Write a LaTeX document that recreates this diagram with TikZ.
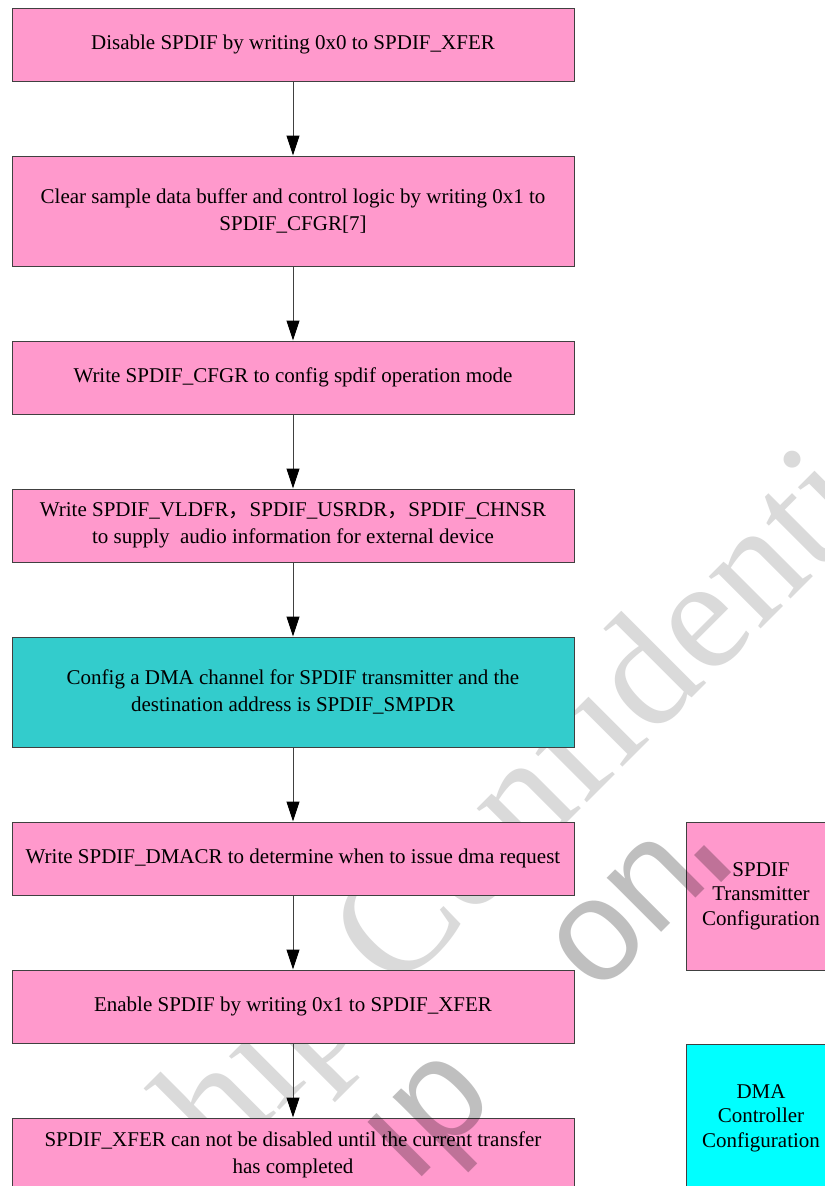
\documentclass[tikz,border=0pt]{standalone}
\usepackage{fontspec}
\setmainfont{Liberation Serif}
\newfontfamily\wmsans{Liberation Sans}
\newfontfamily\cjkfont{Noto Sans CJK SC}
\usetikzlibrary{arrows.meta}
\definecolor{stepPink}{HTML}{FF99CC}
\definecolor{dmaTeal}{HTML}{33CCCC}
\definecolor{dmaCyan}{HTML}{00FFFF}
\definecolor{edgeGray}{HTML}{404040}
\definecolor{markGray}{HTML}{DADADA}
% full-width comma used between register names
\newcommand{\fwc}{{\cjkfont ，}}

\begin{document}
\begin{tikzpicture}[x=0.75pt,y=-0.75pt,
  stepbox/.style={draw=edgeGray, line width=0.75pt, fill=stepPink,
    minimum width=421.5pt, inner sep=0pt, align=center,
    font=\fontsize{15.75}{20.5}\selectfont},
  oneline/.style={minimum height=54.75pt},
  twoline/.style={minimum height=82.5pt},
  sidebox/.style={draw=edgeGray, line width=0.75pt,
    minimum width=112.5pt, minimum height=111pt, inner sep=0pt, align=center,
    font=\fontsize{15.75}{18.5}\selectfont},
  flow/.style={draw=edgeGray, line width=0.75pt,
    -{Triangle[length=15pt,width=9.75pt,color=black]}},
  markback/.style={text=markGray, inner sep=0pt, rotate=45,
    font=\fontsize{120}{120}\selectfont},
  markfront/.style={text=black, text opacity=0.25, inner sep=0pt, rotate=45,
    font=\wmsans\fontsize{109}{109}\selectfont}
]
\useasboundingbox (0,0) rectangle (825,1186);
\clip (0,0) rectangle (825,1186);
\fill[white] (0,0) rectangle (825,1186);

% background watermark
\node[markback, anchor=base west] (wmA) at (-68,1458) {Rockchip Confidential};

% main flow
\node[stepbox,oneline] (s1) at (293,44.5) {Disable SPDIF by writing 0x0 to SPDIF\_XFER};
\node[stepbox,twoline] (s2) at (293,211) {Clear sample data buffer and control logic by writing 0x1 to\\SPDIF\_CFGR[7]};
\node[stepbox,oneline] (s3) at (293,377.5) {Write SPDIF\_CFGR to config spdif operation mode};
\node[stepbox,oneline] (s4) at (293,525.5) {Write SPDIF\_VLDFR\fwc SPDIF\_USRDR\fwc SPDIF\_CHNSR\\to supply\ \ audio information for external device};
\node[stepbox,twoline,fill=dmaTeal] (s5) at (293,692) {Config a DMA channel for SPDIF transmitter and the\\destination address is SPDIF\_SMPDR};
\node[stepbox,oneline] (s6) at (293,858.5) {Write SPDIF\_DMACR to determine when to issue dma request};
\node[stepbox,oneline] (s7) at (293,1006.5) {Enable SPDIF by writing 0x1 to SPDIF\_XFER};
\node[stepbox,oneline] (s8) at (293,1154.5) {SPDIF\_XFER can not be disabled until the current transfer\\has completed};

% legend boxes
\node[sidebox,fill=stepPink] (k1) at (761,896) {SPDIF\\Transmitter\\Configuration};
\node[sidebox,fill=dmaCyan] (k2) at (761,1118) {DMA\\Controller\\Configuration};

\foreach \a/\b in {s1/s2,s2/s3,s3/s4,s4/s5,s5/s6,s6/s7,s7/s8}
  \draw[flow] (\a.south) -- (\b.north);

% foreground watermark fragments
\node[markfront, anchor=base west] (wmB) at (412,1187) {ıp};
\node[markfront, anchor=base west] (wmC) at (597,997) {on};
\draw[black, opacity=0.25, line width=10.5pt] (699,850) -- (726,877);
\end{tikzpicture}
\end{document}
